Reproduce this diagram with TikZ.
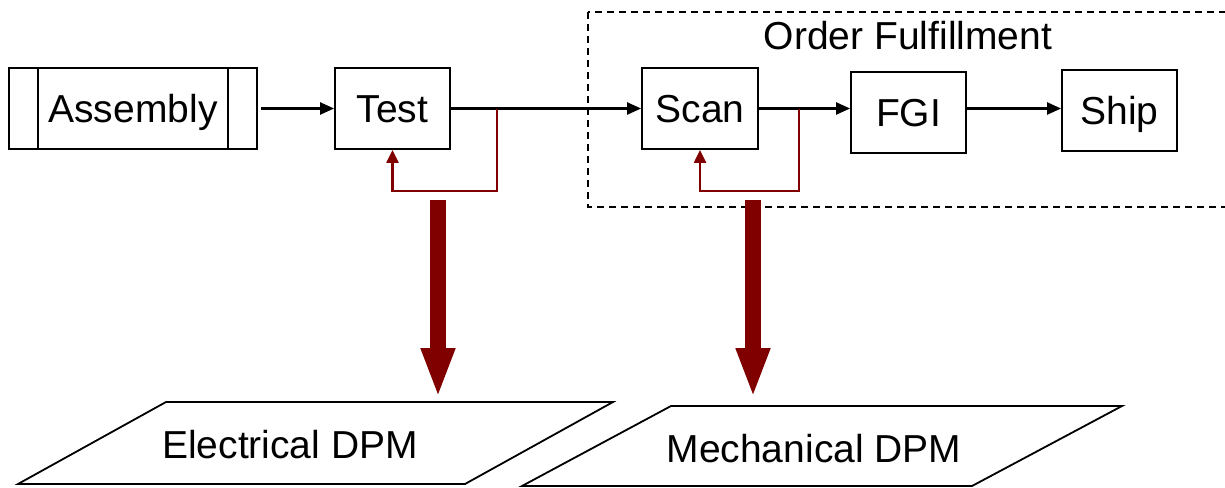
\documentclass[tikz,border=0pt]{standalone}
\usepackage{fontspec}
\setmainfont{Liberation Sans}
\usetikzlibrary{arrows.meta}
\definecolor{dred}{RGB}{128,0,0}
\begin{document}
\begin{tikzpicture}[x=1pt,y=-1pt,
  box/.style={draw,line width=1.8pt,minimum width=115pt,minimum height=81pt,inner sep=0pt,
    text height=27pt,text depth=0pt,font=\fontsize{39}{45}\selectfont},
  flow/.style={line width=2.2pt,-{Triangle[length=14pt,width=12pt]}},
  fb/.style={dred,line width=2.2pt,-{Triangle[length=13pt,width=12pt]}},
  big/.style={dred,line width=16pt,-{Triangle[length=50pt,width=31pt]}},
  lbl/.style={font=\fontsize{39}{45}\selectfont,inner sep=0pt,anchor=base},
  dbox/.style={line width=1.5pt,dash pattern=on 7pt off 5pt},
  para/.style={line width=1.8pt,line join=miter}]
\clip (0,0) rectangle (1225,487);
\fill[white] (0,0) rectangle (1225,487);

% order fulfillment region
\draw[dbox] (588,12) rectangle (1240,207);
\node[lbl] (of) at (908,50) {Order Fulfillment};

% process boxes
\node[box,minimum width=248pt] (asm) at (133,108.5) {Assembly};
\draw[line width=1.8pt] ([xshift=30pt]asm.north west) -- ([xshift=30pt]asm.south west);
\draw[line width=1.8pt] ([xshift=-30pt]asm.north east) -- ([xshift=-30pt]asm.south east);
\node[box] (test) at (392.5,108.5) {Test};
\node[box,minimum width=116pt] (scan) at (700,108.5) {Scan};
\node[box] (fgi) at (908.5,112.5) {FGI};
\node[box] (ship) at (1119.5,110.5) {Ship};

% main flow
\draw[flow] ([xshift=3pt]asm.east) -- (test.west);
\draw[flow] (test.east) -- (scan.west);
\draw[flow] (scan.east) -- (scan.east -| fgi.west);
\draw[flow] (fgi.east |- scan.east) -- (ship.west |- scan.east);

% feedback loops
\coordinate (tfb) at (497,108.5);
\coordinate (tlow) at (497,191);
\draw[fb] (tfb) -- (tlow) -| (test.south);
\coordinate (sfb) at (799,108.5);
\coordinate (slow) at (799,191);
\draw[fb] (sfb) -- (slow) -| (scan.south);

% DPM data stores
\draw[para] (166,402) -- (613,402) -- (465,484) -- (18,484) -- cycle;
\node[lbl] (elec) at (290,458) {Electrical DPM};
\draw[para] (671,406) -- (1122,406) -- (972,486) -- (522,486) -- cycle;
\node[lbl] (mech) at (814,462) {Mechanical DPM};

% thick arrows
\coordinate (etop) at (438,200);
\coordinate (etip) at (438,398);
\draw[big] (etop) -- (etip);
\coordinate (mtop) at (753,200);
\coordinate (mtip) at (753,398);
\draw[big] (mtop) -- (mtip);
\end{tikzpicture}
\end{document}
